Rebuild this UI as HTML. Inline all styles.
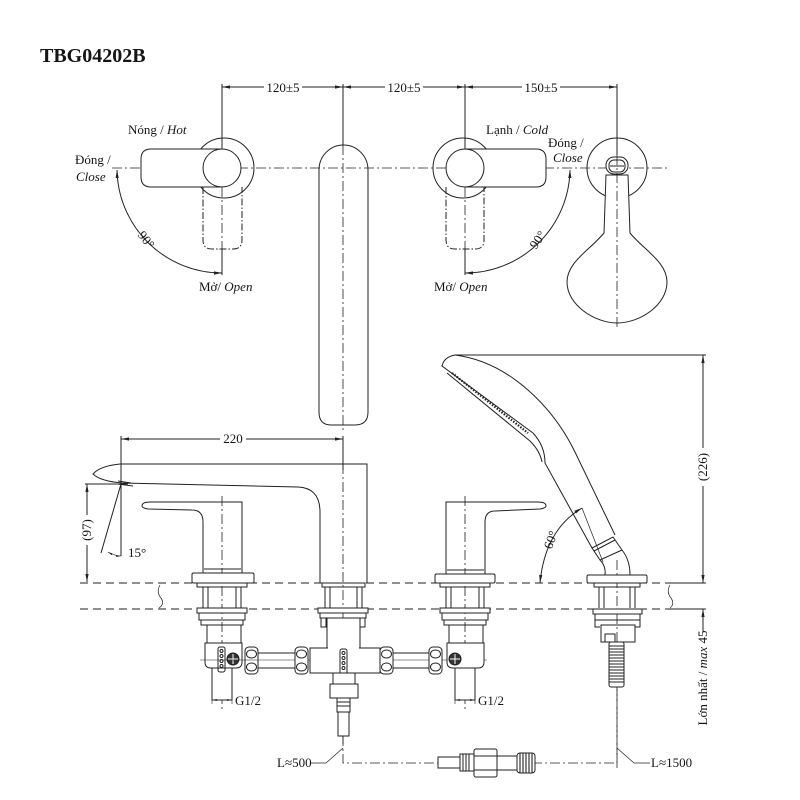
<!DOCTYPE html>
<html><head><meta charset="utf-8"><style>
html,body{margin:0;padding:0;background:#fff}
svg{display:block}
text{font-family:"Liberation Serif","DejaVu Serif",serif;fill:#151515;font-size:13px}
.i{font-style:italic}
</style></head><body>
<svg width="800" height="800" viewBox="0 0 800 800" xmlns="http://www.w3.org/2000/svg">
<defs>
<marker id="ar" viewBox="0 0 10 10" refX="10" refY="5" markerWidth="8" markerHeight="8" orient="auto-start-reverse"><path d="M0,3 L10,5 L0,7 z" fill="#222"/></marker>
</defs>
<rect width="800" height="800" fill="#fff"/>

<text x="40" y="62" style="font-size:20px;font-weight:bold">TBG04202B</text>

<g fill="none" stroke="#222" stroke-width="1">
<!-- ===== TOP DIMENSIONS ===== -->
<line x1="222" y1="84" x2="222" y2="150"/>
<line x1="343" y1="84" x2="343" y2="145"/>
<line x1="465" y1="84" x2="465" y2="150"/>
<line x1="617" y1="84" x2="617" y2="155"/>
<line x1="222" y1="87" x2="343" y2="87" marker-start="url(#ar)" marker-end="url(#ar)"/>
<line x1="343" y1="87" x2="465" y2="87" marker-start="url(#ar)" marker-end="url(#ar)"/>
<line x1="465" y1="87" x2="617" y2="87" marker-start="url(#ar)" marker-end="url(#ar)"/>

<line x1="112" y1="168" x2="670" y2="168" stroke-dasharray="10,3,2,3" stroke-width="0.8"/>

<!-- ===== LEFT HANDLE TOP VIEW ===== -->
<circle cx="224" cy="168" r="30"/>
<path d="M151,149 H222 A19,19 0 0 1 222,187 H151 Q141,187 141,177 V159 Q141,149 151,149 Z" fill="#fff"/>
<path d="M222,149 A19,19 0 0 0 222,187"/>
<path d="M203,187 V240 Q203,249 212,249 H233 Q242,249 242,240 V187" stroke-dasharray="7,2,1.5,2"/>
<line x1="222" y1="187" x2="222" y2="275" stroke-dasharray="10,3,2,3" stroke-width="0.8"/>
<line x1="222" y1="249" x2="222" y2="275"/>
<path d="M117,170 A105,105 0 0 0 222,273" marker-start="url(#ar)" marker-end="url(#ar)"/>

<!-- ===== SPOUT TOP VIEW ===== -->
<path d="M319,170 A24.5,25 0 0 1 368,170 V412 Q368,425 355,425 H331 Q319,425 319,412 Z"/>
<line x1="343" y1="145" x2="343" y2="432" stroke-dasharray="10,3,2,3" stroke-width="0.8"/>

<!-- ===== RIGHT HANDLE TOP VIEW ===== -->
<circle cx="463" cy="168" r="30"/>
<path d="M465,149 H536 Q546,149 546,159 V177 Q546,187 536,187 H465 A19,19 0 0 1 465,149 Z" fill="#fff"/>
<path d="M465,149 A19,19 0 0 1 465,187"/>
<path d="M446,187 V240 Q446,249 455,249 H475 Q484,249 484,240 V187" stroke-dasharray="7,2,1.5,2"/>
<line x1="465" y1="187" x2="465" y2="275" stroke-dasharray="10,3,2,3" stroke-width="0.8"/>
<line x1="465" y1="249" x2="465" y2="275"/>
<path d="M570,170 A105,105 0 0 1 465,273" marker-start="url(#ar)" marker-end="url(#ar)"/>

<!-- ===== SHOWER TOP VIEW ===== -->
<circle cx="617" cy="168" r="30"/>
<path d="M606,175 L604,233 C590,250 567,262 567,282 C567,305 595,323 617,323 C640,323 667,305 667,282 C667,262 644,250 630,233 L628,175 Z" fill="#fff"/>
<rect x="606" y="157" width="22" height="17" rx="8" fill="#fff"/>
<rect x="609" y="160" width="16" height="12" rx="5"/>
<line x1="610" y1="166" x2="624" y2="166"/>
<line x1="617" y1="155" x2="617" y2="330" stroke-dasharray="10,3,2,3" stroke-width="0.8"/>

<!-- ===== SIDE VIEW: DIM 220 ===== -->
<line x1="121" y1="436" x2="121" y2="490"/>
<line x1="343" y1="436" x2="343" y2="470"/>
<line x1="121" y1="439" x2="343" y2="439" marker-start="url(#ar)" marker-end="url(#ar)"/>
<line x1="343" y1="464" x2="343" y2="745" stroke-dasharray="10,3,2,3" stroke-width="0.8"/>

<path d="M120,464 H367 V583"/>
<path d="M320,583 V512 Q320,488 298,487 L122,483 Q100,481 93,474 Q100,466 120,464" fill="none"/>
<path d="M118,484 L133,486 M118,481 L131,483"/>

<!-- (97) + 15° -->
<line x1="85" y1="484" x2="128" y2="484"/>
<line x1="87" y1="484" x2="87" y2="582" marker-start="url(#ar)" marker-end="url(#ar)"/>
<line x1="121" y1="484" x2="121" y2="556"/>
<line x1="121" y1="484" x2="101" y2="553"/>
<path d="M108,552 Q115,556 121,556" marker-start="url(#ar)" marker-end="url(#ar)" stroke-width="0.6"/>

<!-- left handle side -->
<path d="M142,506 Q142,502 150,502 H242 V573"/>
<path d="M203,573 V522 Q203,510 192,510 L148,509 Q142,508 142,506"/>
<line x1="222" y1="496" x2="222" y2="710" stroke-dasharray="10,3,2,3" stroke-width="0.8"/>
<line x1="204" y1="569" x2="241" y2="569"/>
<rect x="192" y="573" width="62" height="10" rx="1.5" fill="#fff"/>

<!-- right handle side -->
<path d="M546,506 Q546,502 538,502 H446 V575"/>
<path d="M485,575 V522 Q485,511 495,511 L540,509 Q546,508 546,506"/>
<line x1="465" y1="496" x2="465" y2="710" stroke-dasharray="10,3,2,3" stroke-width="0.8"/>
<line x1="447" y1="570" x2="484" y2="570"/>
<rect x="435" y="574" width="60" height="9" rx="1.5" fill="#fff"/>

<!-- handshower -->
<line x1="455" y1="355" x2="706" y2="355"/>
<path d="M455,355 C510,362 553,408 574,450 L615,535"/>
<path d="M455,355 Q444,357 442,366 L533,433 Q545,446 545,463 L592,548"/>
<path d="M447,373 L530,441 Q540,451 542,462"/>
<line x1="452" y1="373" x2="528" y2="433" stroke-dasharray="1.5,1.5" stroke-width="2.2"/>
<path d="M592,548 L613,537 L622,550 L600,560 Z"/>
<path d="M594,551 L615,540" />
<path d="M600,560 Q606,566 605,575 M622,550 Q630,560 630,575"/>
<line x1="582" y1="508" x2="603" y2="562" stroke-width="0.7"/>
<line x1="617" y1="560" x2="617" y2="770" stroke-dasharray="10,3,2,3" stroke-width="0.8"/>
<path d="M540,583 Q545,530 582,508" marker-start="url(#ar)" marker-end="url(#ar)"/>
<rect x="587" y="575" width="60" height="8" rx="1.5" fill="#fff"/>

<!-- (226) dim -->
<line x1="703" y1="355" x2="703" y2="583" marker-start="url(#ar)" marker-end="url(#ar)"/>
<line x1="665" y1="583" x2="706" y2="583"/>
<line x1="665" y1="609" x2="706" y2="609"/>
<line x1="703" y1="609" x2="703" y2="632" marker-start="url(#ar)"/>
<path d="M670,585 Q666,592 671,598 Q675,604 670,608" stroke-width="0.7"/>

<!-- deck lines -->
<line x1="80" y1="583" x2="700" y2="583" stroke-dasharray="8,5" stroke-width="0.9"/>
<line x1="80" y1="609" x2="700" y2="609" stroke-dasharray="8,5" stroke-width="0.9"/>
<path d="M160,585 Q156,592 161,598 Q165,604 159,608" stroke-width="0.7"/>

<!-- ===== LEFT VALVE BELOW ===== -->
<rect x="197" y="583" width="50" height="4"/>
<path d="M203,587 V608 M208,587 V608 M236,587 V608 M241,587 V608"/>
<rect x="197" y="608" width="50" height="5" fill="#fff"/>
<rect x="199" y="613" width="46" height="7"/>
<rect x="201" y="620" width="42" height="5"/>
<rect x="207" y="625" width="34" height="18"/>
<path d="M205,643 H242 V662 Q242,668 236,668 H211 Q205,668 205,662 Z" fill="#fff"/>
<rect x="212" y="668" width="20" height="32" fill="#fff"/>
<rect x="218" y="647" width="7" height="25" rx="2"/>
<circle cx="221.5" cy="651" r="1.5"/><circle cx="221.5" cy="656" r="1.5"/><circle cx="221.5" cy="661" r="1.5"/><circle cx="221.5" cy="666" r="1.5"/>
<circle cx="233" cy="659" r="6" fill="#333"/>
<path d="M233,654 V664 M228,659 H238" stroke="#fff" stroke-width="1"/>
<rect x="245" y="647" width="13" height="27" rx="4" fill="#fff"/>
<ellipse cx="251.5" cy="654" rx="5" ry="4"/><ellipse cx="251.5" cy="667" rx="5" ry="4"/>

<!-- pipes -->
<path d="M258,653 H295 M258,668 H295 M393,653 H429 M393,668 H429"/>
<line x1="200" y1="660" x2="487" y2="660" stroke-width="0.6"/>
<rect x="295" y="647" width="13" height="27" rx="4" fill="#fff"/>
<ellipse cx="301.5" cy="654" rx="5" ry="4"/><ellipse cx="301.5" cy="667" rx="5" ry="4"/>
<rect x="380" y="647" width="13" height="27" rx="4" fill="#fff"/>
<ellipse cx="386.5" cy="654" rx="5" ry="4"/><ellipse cx="386.5" cy="667" rx="5" ry="4"/>
<rect x="429" y="647" width="13" height="27" rx="4" fill="#fff"/>
<ellipse cx="435.5" cy="654" rx="5" ry="4"/><ellipse cx="435.5" cy="667" rx="5" ry="4"/>

<!-- ===== CENTER VALVE ===== -->
<rect x="322" y="583" width="43" height="4"/>
<path d="M325,587 V608 M330,587 V608 M357,587 V608 M362,587 V608"/>
<rect x="318" y="608" width="50" height="5" fill="#fff"/>
<rect x="320" y="613" width="46" height="5"/>
<path d="M321,618 V627 H326 V618 M360,618 V627 H365 V618"/>
<rect x="327" y="618" width="33" height="30" fill="#fff"/>
<rect x="310" y="648" width="70" height="25" fill="#fff"/>
<line x1="328" y1="648" x2="359" y2="648" stroke="#fff" stroke-width="1.5"/>
<rect x="340" y="649" width="7" height="25" rx="2" fill="#fff"/>
<circle cx="343.5" cy="653" r="1.5"/><circle cx="343.5" cy="658" r="1.5"/><circle cx="343.5" cy="663" r="1.5"/><circle cx="343.5" cy="668" r="1.5"/>
<rect x="333" y="673" width="22" height="11" fill="#fff"/>
<rect x="330" y="684" width="28" height="14" fill="#fff"/>
<rect x="337" y="698" width="13" height="14" fill="#fff"/>
<path d="M337,702 H350 M337,706 H350"/>
<rect x="338" y="712" width="11" height="24" fill="#fff"/>

<!-- ===== RIGHT VALVE ===== -->
<rect x="440" y="583" width="50" height="4"/>
<path d="M446,587 V608 M451,587 V608 M479,587 V608 M484,587 V608"/>
<rect x="440" y="608" width="50" height="5" fill="#fff"/>
<rect x="442" y="613" width="46" height="7"/>
<rect x="444" y="620" width="42" height="5"/>
<rect x="449" y="625" width="34" height="18"/>
<path d="M447,643 H484 V662 Q484,668 478,668 H453 Q447,668 447,662 Z" fill="#fff"/>
<rect x="455" y="668" width="20" height="32" fill="#fff"/>
<circle cx="455" cy="659" r="6" fill="#333"/>
<path d="M455,654 V664 M450,659 H460" stroke="#fff" stroke-width="1"/>

<!-- ===== SHOWER CONNECTOR ===== -->
<rect x="594" y="583" width="46" height="4"/>
<path d="M599,587 V608 M604,587 V608 M630,587 V608 M635,587 V608"/>
<rect x="593" y="609" width="49" height="5" fill="#fff"/>
<rect x="595" y="614" width="45" height="6"/>
<path d="M595,620 V627 H600 M640,620 V627 H635"/>
<rect x="601" y="625" width="34" height="17"/>
<rect x="605" y="634" width="10" height="8"/>
<rect x="609" y="642" width="15" height="45" rx="2" fill="#fff"/>
<path d="M609,646 H624 M609,649 H624 M609,652 H624 M609,655 H624 M609,658 H624 M609,661 H624 M609,664 H624 M609,667 H624 M609,670 H624 M609,673 H624 M609,676 H624 M609,679 H624 M609,682 H624" stroke-width="1.1"/>

<!-- G1/2 dims -->
<path d="M212,690 V704 M232,690 V704 M455,690 V704 M475,690 V704" stroke-width="0.6"/>
<line x1="212" y1="700" x2="232" y2="700" marker-start="url(#ar)" marker-end="url(#ar)" stroke-width="0.6"/>
<line x1="455" y1="700" x2="475" y2="700" marker-start="url(#ar)" marker-end="url(#ar)" stroke-width="0.6"/>

<!-- hose path -->
<path d="M343,736 V763 H617 V687" stroke-dasharray="10,3,2,3" stroke-width="0.8"/>
<path d="M310,763 H326 L343,748" stroke-width="0.7"/>
<path d="M617,748 L634,763 H650" stroke-width="0.7"/>

<!-- bottom connector -->
<rect x="438" y="757" width="22" height="11" fill="#fff"/>
<rect x="460" y="754" width="14" height="17" fill="#fff"/>
<path d="M463,754 V771 M466,754 V771 M469,754 V771"/>
<rect x="474" y="749" width="23" height="28" rx="2" fill="#fff"/>
<path d="M474,756 H497 M474,770 H497"/>
<rect x="497" y="756" width="20" height="14" fill="#fff"/>
<rect x="517" y="753" width="18" height="20" rx="3" fill="#fff"/>
<path d="M520,753 V773 M523,753 V773 M526,753 V773 M529,753 V773 M532,753 V773" stroke-width="1.1"/>
</g>

<rect x="264" y="80" width="38" height="14" fill="#fff"/>
<rect x="385" y="80" width="38" height="14" fill="#fff"/>
<rect x="522" y="80" width="38" height="14" fill="#fff"/>
<rect x="220" y="432" width="26" height="14" fill="#fff"/>
<rect x="80" y="515" width="14" height="30" fill="#fff"/>
<rect x="696" y="448" width="14" height="38" fill="#fff"/>

<text x="283" y="92" text-anchor="middle">120±5</text>
<text x="404" y="92" text-anchor="middle">120±5</text>
<text x="541" y="92" text-anchor="middle">150±5</text>
<text x="128" y="134">Nóng / <tspan class="i">Hot</tspan></text>
<text x="75" y="164">Đóng /</text>
<text x="76" y="181" class="i">Close</text>
<text x="199" y="291">Mở/ <tspan class="i">Open</tspan></text>
<text transform="translate(146,240) rotate(52)" text-anchor="middle" dy="4">90°</text>
<text x="486" y="134">Lạnh / <tspan class="i">Cold</tspan></text>
<text x="548" y="147">Đóng /</text>
<text x="553" y="162" class="i">Close</text>
<text x="434" y="291">Mở/ <tspan class="i">Open</tspan></text>
<text transform="translate(538,240) rotate(-55)" text-anchor="middle" dy="4">90°</text>
<text x="233" y="443" text-anchor="middle">220</text>
<text transform="translate(87,530) rotate(-90)" text-anchor="middle" dy="4">(97)</text>
<text x="128" y="557">15°</text>
<text transform="translate(551,540) rotate(-70)" text-anchor="middle" dy="4">60°</text>
<text transform="translate(703,467) rotate(-90)" text-anchor="middle" dy="4">(226)</text>
<text transform="translate(703,678) rotate(-90)" text-anchor="middle" dy="4">Lớn nhất / <tspan class="i">max</tspan> 45</text>
<text x="235" y="705">G1/2</text>
<text x="478" y="705">G1/2</text>
<text x="277" y="767">L≈500</text>
<text x="651" y="767">L≈1500</text>
</svg>
</body></html>
